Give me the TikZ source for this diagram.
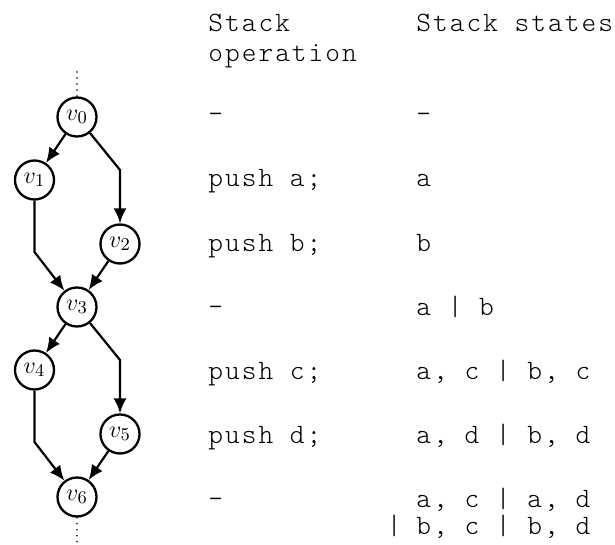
\documentclass[tikz,border=0pt]{standalone}
\usepackage{fontspec}
\newfontfamily\monofont[LetterSpace=7.2]{lmmonolt10-regular.otf}
\usetikzlibrary{arrows.meta}
\begin{document}
\begin{tikzpicture}[x=0.5pt,y=-0.5pt,
  vnode/.style={circle,draw,line width=1.15pt,minimum size=19.5pt,inner sep=0pt,font=\fontsize{12.5}{14}\selectfont},
  edge/.style={line width=1.1pt,-{Latex[length=7.5pt,width=6.5pt]}},
  lbl/.style={anchor=base west,inner sep=0pt,font=\monofont\fontsize{14}{15}\selectfont},
  dots/.style={line width=0.9pt,line cap=round,dash pattern=on 0pt off 3pt}]
\useasboundingbox (0,0) rectangle (615,545);
% graph
\node[vnode] (v0) at (77,117) {$v_0$};
\node[vnode] (v1) at (34.5,180) {$v_1$};
\node[vnode] (v2) at (120,244) {$v_2$};
\node[vnode] (v3) at (77,307) {$v_3$};
\node[vnode] (v4) at (34.5,370) {$v_4$};
\node[vnode] (v5) at (120,434) {$v_5$};
\node[vnode] (v6) at (77,497) {$v_6$};
\coordinate (b02) at (120,170);
\coordinate (b13) at (34.5,252);
\coordinate (b35) at (120,360);
\coordinate (b46) at (34.5,442);
\coordinate (top) at (77,72);
\coordinate (bot) at (77,545);
\draw[edge] (v0) -- (v1);
\draw[edge] (v0) -- (b02) -- (v2);
\draw[edge] (v1) -- (b13) -- (v3);
\draw[edge] (v2) -- (v3);
\draw[edge] (v3) -- (v4);
\draw[edge] (v3) -- (b35) -- (v5);
\draw[edge] (v4) -- (b46) -- (v6);
\draw[edge] (v5) -- (v6);
\draw[dots] (top) -- (v0);
\draw[dots] (v6) -- (bot);
% table
\node[lbl] (h1a) at (208,31.7) {Stack};
\node[lbl] (h1b) at (208,61.7) {operation};
\node[lbl] (h2) at (416,31.7) {Stack states};
\node[lbl] (o0) at (208,123) {–};
\node[lbl] (s0) at (416,123) {–};
\node[lbl] (o1) at (208,187) {push a;};
\node[lbl] (s1) at (416,187) {a};
\node[lbl] (o2) at (208,251) {push b;};
\node[lbl] (s2) at (416,251) {b};
\node[lbl] (o3) at (208,315) {–};
\node[lbl] (s3) at (416,315) {a | b};
\node[lbl] (o4) at (208,379) {push c;};
\node[lbl] (s4) at (416,379) {a, c | b, c};
\node[lbl] (o5) at (208,443) {push d;};
\node[lbl] (s5) at (416,443) {a, d | b, d};
\node[lbl] (o6) at (208,507) {–};
\node[lbl] (s6) at (416,507) {a, c | a, d};
\node[lbl] (s6b) at (416,534) {\llap{|\hspace{0.53em}}b, c | b, d};
\end{tikzpicture}
\end{document}
